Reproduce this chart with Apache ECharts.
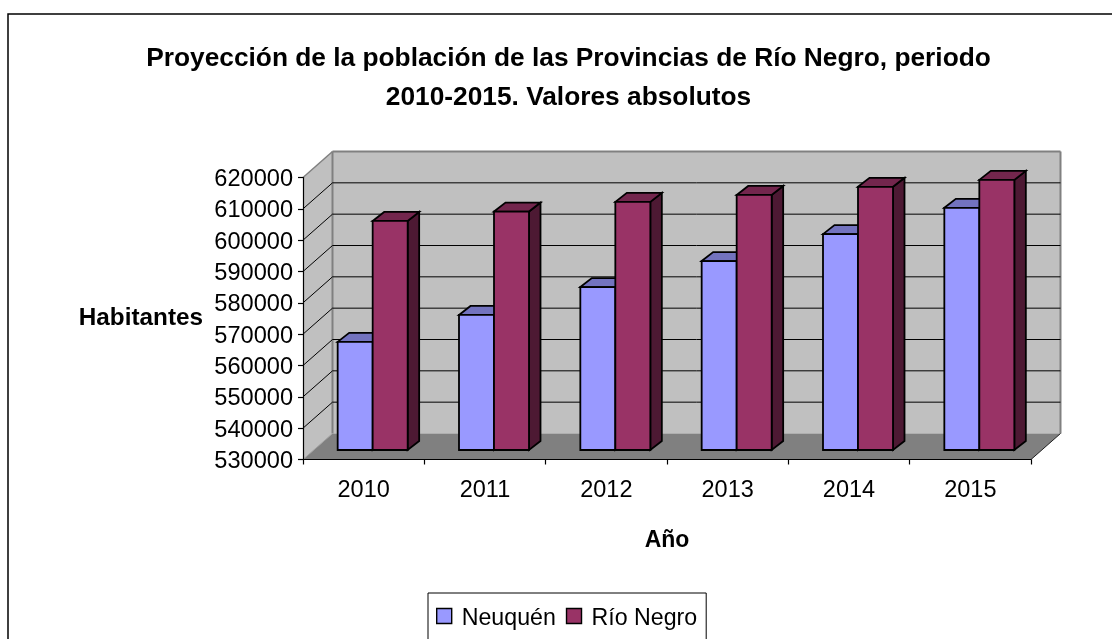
<!DOCTYPE html>
<html>
<head>
<meta charset="utf-8">
<script src="https://cdn.jsdelivr.net/npm/echarts@6/dist/echarts.min.js"></script>
<style>
  html, body { margin: 0; padding: 0; background: #fff; overflow: hidden; }
  #chart { width: 1112px; height: 639px; }
</style>
</head>
<body>
<div id="chart"></div>
<script>
const years = ["2010", "2011", "2012", "2013", "2014", "2015"];
const neuquen = [564500, 573100, 582000, 590300, 598900, 607300];
const rioNegro = [603100, 606100, 609200, 611400, 614000, 616200];
const yTicks = [530000, 540000, 550000, 560000, 570000, 580000, 590000, 600000, 610000, 620000];

const FONT = "Liberation Sans";
// how far the back wall sits from the front plane
const wallDx = 29.5, wallDy = -26;
// where the bars stand on the floor, and how deep they are
const barDx = 9, barDy = -9.5, barDepthX = 11.5, barDepthY = -9;
const barWidth = 35;

const chart = echarts.init(document.getElementById("chart"));

const poly = (points, fill, stroke, lineWidth) => ({
  type: "polygon",
  shape: { points },
  style: { fill, stroke: stroke || null, lineWidth: lineWidth || 0 },
});
const line = (a, b, stroke, lineWidth) => ({
  type: "line",
  shape: { x1: a[0], y1: a[1], x2: b[0], y2: b[1] },
  style: { stroke, lineWidth },
});

const renderWalls = (params) => {
  const r = params.coordSys;
  const x0 = r.x, x1 = r.x + r.width, top = r.y, bot = r.y + r.height;
  const back = (p) => [p[0] + wallDx, p[1] + wallDy];
  return {
    type: "group",
    children: [
      poly([[x0, top], back([x0, top]), back([x0, bot]), [x0, bot]], "#c0c0c0"),
      poly([back([x0, top]), back([x1, top]), back([x1, bot]), back([x0, bot])], "#c0c0c0"),
      poly([[x0, bot], back([x0, bot]), back([x1, bot]), [x1, bot]], "#808080"),
      line([x0, top], back([x0, top]), "#808080", 1.5),
      line(back([x0, top]), back([x1, top]), "#808080", 2),
      line(back([x0, top]), back([x0, bot]), "#808080", 2),
      line(back([x1, top]), back([x1, bot]), "#808080", 2),
      line([x0, bot], back([x0, bot]), "#a0a0a0", 1),
      line([x1, bot], back([x1, bot]), "#202020", 1),
    ],
  };
};

const renderGridLine = (params, api) => {
  const r = params.coordSys;
  const y = api.coord([0, api.value(0)])[1];
  const p0 = [r.x, y], p1 = [r.x + wallDx, y + wallDy], p2 = [r.x + r.width + wallDx, y + wallDy];
  return {
    type: "group",
    children: [line(p0, p1, "#000", 1), line(p1, p2, "#000", 1)],
  };
};

const renderBar = (slot, front, top, side) => (params, api) => {
  const i = api.value(0);
  const c = api.coord([i, api.value(1)]);
  const base = api.coord([i, yTicks[0]]);
  const xl = c[0] + barDx + (slot - 1) * barWidth;
  const xr = xl + barWidth;
  const yt = c[1] + barDy;
  const yb = base[1] + barDy;
  const dx = barDepthX, dy = barDepthY;
  return {
    type: "group",
    children: [
      poly([[xr, yt], [xr + dx, yt + dy], [xr + dx, yb + dy], [xr, yb]], side, "#000", 1.8),
      poly([[xl, yt], [xl + dx, yt + dy], [xr + dx, yt + dy], [xr, yt]], top, "#000", 1.8),
      poly([[xl, yt], [xr, yt], [xr, yb], [xl, yb]], front, "#000", 1.8),
    ],
  };
};

const option = {
  animation: false,
  backgroundColor: "#fff",
  textStyle: { fontFamily: FONT, color: "#000" },
  title: {
    text: "Proyección de la población de las Provincias de Río Negro, periodo\n2010-2015. Valores absolutos",
    left: 563.5,
    top: 34,
    textAlign: "center",
    textStyle: { fontFamily: FONT, fontWeight: "bold", fontSize: 26.3, lineHeight: 39, color: "#000" },
  },
  graphic: [
    {
      type: "rect",
      silent: true,
      z: -10,
      shape: { x: 8, y: 14, width: 1200, height: 800 },
      style: { fill: "#fff", stroke: "#000", lineWidth: 1.5 },
    },
  ],
  legend: {
    data: ["Neuquén", "Río Negro"],
    left: 428,
    top: 593,
    orient: "horizontal",
    icon: "rect",
    itemWidth: 15,
    itemHeight: 15,
    itemGap: 10,
    padding: [14, 9, 30, 8],
    borderColor: "#000",
    borderWidth: 1,
    backgroundColor: "#fff",
    selectedMode: false,
    formatter: "{t|{name}}",
    textStyle: {
      rich: { t: { fontFamily: FONT, fontSize: 23.2, color: "#000", padding: [5, 0, 0, 5] } },
    },
    itemStyle: { borderColor: "#000", borderWidth: 1.4 },
  },
  grid: { left: 303, top: 177.5, width: 728, height: 282 },
  xAxis: {
    type: "category",
    data: years,
    name: "Año",
    nameLocation: "middle",
    nameGap: 70,
    nameTextStyle: { fontFamily: FONT, fontWeight: "bold", fontSize: 23, color: "#000" },
    axisLine: { show: true, lineStyle: { color: "#000", width: 1.2 } },
    axisTick: { show: true, length: 5, lineStyle: { color: "#000", width: 1.2 } },
    axisLabel: { fontFamily: FONT, fontSize: 23.5, color: "#000", margin: 19, interval: 0 },
    splitLine: { show: false },
  },
  yAxis: {
    type: "value",
    min: yTicks[0],
    max: yTicks[yTicks.length - 1],
    interval: 10000,
    name: "Habitantes",
    nameLocation: "middle",
    nameRotate: 0,
    nameGap: 100,
    nameTextStyle: { fontFamily: FONT, fontWeight: "bold", fontSize: 24.3, color: "#000" },
    axisLine: { show: true, lineStyle: { color: "#000", width: 1.2 } },
    axisTick: { show: true, length: 5, lineStyle: { color: "#000", width: 1.2 } },
    axisLabel: {
      fontFamily: FONT,
      fontSize: 23.6,
      color: "#000",
      margin: 10,
      verticalAlign: "top",
      lineHeight: 4,
      formatter: (v) => String(v),
    },
    splitLine: { show: false },
  },
  series: [
    { type: "custom", name: "walls", silent: true, z: -3, renderItem: renderWalls, data: [0], encode: { x: 0 } },
    {
      type: "custom",
      name: "grid",
      silent: true,
      z: -2,
      renderItem: renderGridLine,
      data: yTicks.slice(1, -1).map((v) => [v]),
      encode: { y: 0 },
    },
    {
      type: "custom",
      name: "Neuquén",
      z: 3,
      renderItem: renderBar(0, "#9999ff", "#7373bf", "#4d4d80"),
      itemStyle: { color: "#9999ff" },
      data: neuquen.map((v, i) => [i, v]),
      encode: { x: 0, y: 1 },
    },
    {
      type: "custom",
      name: "Río Negro",
      z: 4,
      renderItem: renderBar(1, "#993366", "#73264d", "#4d1933"),
      itemStyle: { color: "#993366" },
      data: rioNegro.map((v, i) => [i, v]),
      encode: { x: 0, y: 1 },
    },
  ],
};
chart.setOption(option);
window.addEventListener("resize", () => {
  chart.resize();
});
</script>
</body>
</html>
